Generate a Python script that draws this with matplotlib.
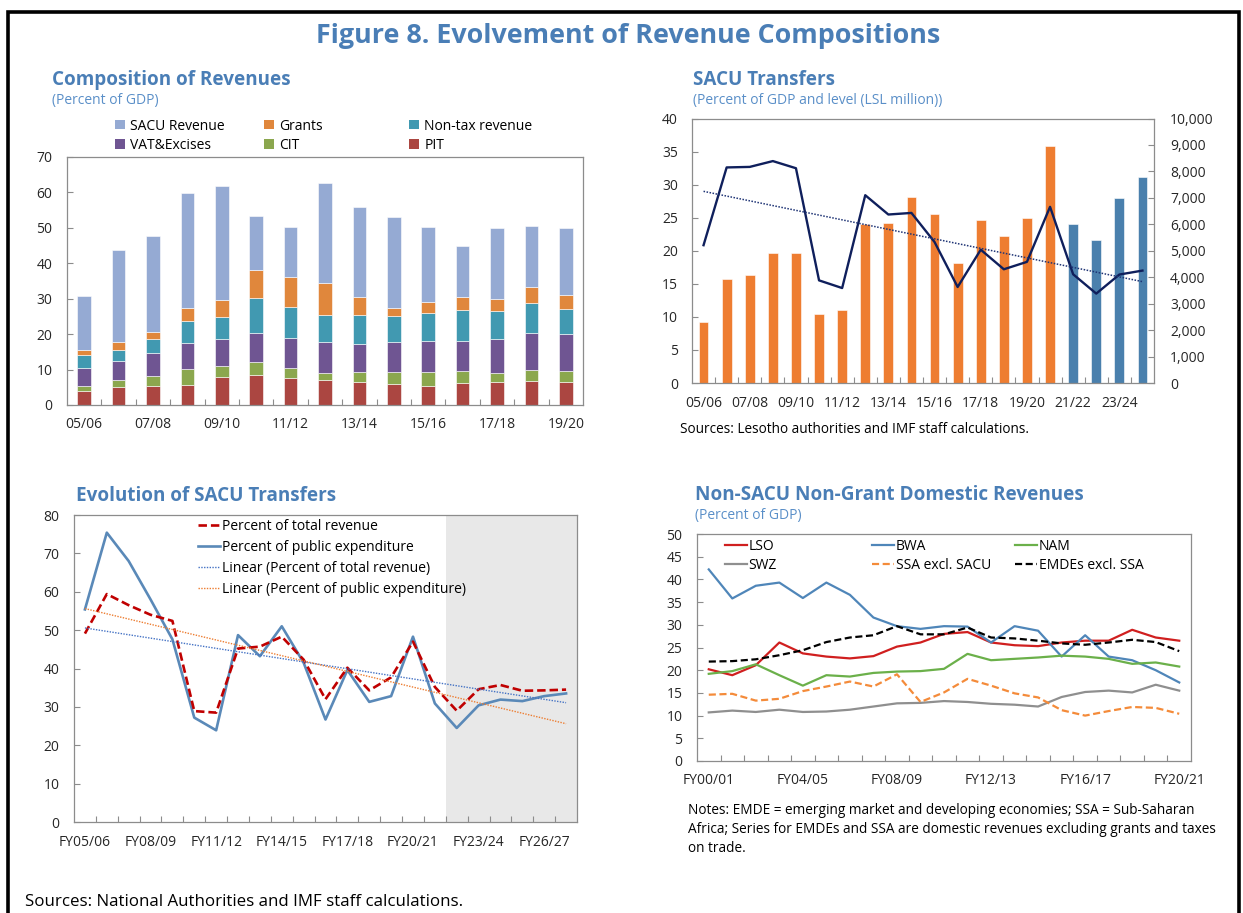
import numpy as np
import matplotlib
matplotlib.use('Agg')
import matplotlib.pyplot as plt
from matplotlib.patches import Patch, Rectangle
from matplotlib.legend import Legend
from matplotlib.ticker import FuncFormatter

# ------------------------------------------------------------------ data
comp_years = ['05/06', '06/07', '07/08', '08/09', '09/10', '10/11', '11/12', '12/13',
              '13/14', '14/15', '15/16', '16/17', '17/18', '18/19', '19/20']
comp_pit = [4.0, 5.2, 5.5, 5.7, 7.9, 8.6, 7.7, 7.0, 6.6, 6.0, 5.5, 6.3, 6.4, 6.9, 6.6]
comp_cit = [1.4, 1.8, 2.6, 4.6, 3.0, 3.4, 2.8, 2.1, 2.8, 3.4, 3.9, 3.2, 2.6, 3.0, 2.9]
comp_vat = [5.0, 5.4, 6.5, 7.2, 7.6, 8.2, 8.4, 8.8, 7.9, 8.5, 8.6, 8.5, 9.5, 10.4, 10.6]
comp_nontax = [3.6, 3.1, 3.9, 6.1, 6.2, 10.1, 8.7, 7.5, 8.1, 7.3, 8.1, 8.7, 8.0, 8.5, 7.1]
comp_grants = [1.5, 2.2, 2.1, 3.8, 4.8, 7.7, 8.4, 8.9, 5.0, 2.3, 3.1, 3.8, 3.3, 4.5, 3.8]
comp_sacu = [15.2, 26.0, 27.0, 32.3, 32.2, 15.4, 14.3, 28.3, 25.4, 25.7, 21.1, 14.5, 20.1, 17.2, 18.9]

sacu_years = ['05/06', '06/07', '07/08', '08/09', '09/10', '10/11', '11/12', '12/13',
              '13/14', '14/15', '15/16', '16/17', '17/18', '18/19', '19/20', '20/21',
              '21/22', '22/23', '23/24', '24/25']
sacu_pct_gdp = [9.2, 15.8, 16.4, 19.6, 19.6, 10.5, 11.0, 24.0, 24.2, 28.1,
                25.5, 18.1, 24.6, 22.2, 24.9, 35.9, 24.1, 21.6, 28.0, 31.2]
sacu_level = [5210, 8150, 8170, 8390, 8120, 3880, 3590, 7100, 6370, 6430,
              5330, 3630, 5040, 4300, 4580, 6660, 4110, 3380, 4100, 4250]
sacu_n_actual = 16

evo_years = ['FY05/06', 'FY06/07', 'FY07/08', 'FY08/09', 'FY09/10', 'FY10/11', 'FY11/12',
             'FY12/13', 'FY13/14', 'FY14/15', 'FY15/16', 'FY16/17', 'FY17/18', 'FY18/19',
             'FY19/20', 'FY20/21', 'FY21/22', 'FY22/23', 'FY23/24', 'FY24/25', 'FY25/26',
             'FY26/27', 'FY27/28']
evo_total_rev = [49.1, 59.4, 56.5, 54.0, 52.4, 28.9, 28.5, 45.2, 45.7, 48.3, 42.3, 32.0,
                 40.2, 34.3, 37.7, 47.0, 35.2, 29.0, 34.6, 35.7, 34.2, 34.3, 34.5]
evo_pub_exp = [55.4, 75.4, 68.0, 58.0, 47.6, 27.2, 23.9, 48.7, 43.2, 51.0, 41.5, 26.7,
               39.6, 31.3, 32.8, 48.3, 30.9, 24.5, 30.4, 31.9, 31.5, 32.8, 33.5]
evo_proj_start = 'FY22/23'

dom_years = ['FY00/01', 'FY01/02', 'FY02/03', 'FY03/04', 'FY04/05', 'FY05/06', 'FY06/07',
             'FY07/08', 'FY08/09', 'FY09/10', 'FY10/11', 'FY11/12', 'FY12/13', 'FY13/14',
             'FY14/15', 'FY15/16', 'FY16/17', 'FY17/18', 'FY18/19', 'FY19/20', 'FY20/21']
dom_lso = [20.2, 18.9, 21.1, 26.1, 23.7, 23.0, 22.6, 23.1, 25.2, 26.1, 28.0, 28.4, 26.1,
           25.5, 25.3, 26.1, 26.5, 26.5, 28.9, 27.2, 26.5]
dom_bwa = [42.2, 35.8, 38.6, 39.3, 35.9, 39.3, 36.6, 31.6, 29.7, 29.1, 29.7, 29.6, 26.1,
           29.7, 28.7, 23.0, 27.7, 23.0, 22.2, 20.0, 17.3]
dom_nam = [19.2, 19.8, 21.3, 18.9, 16.6, 18.9, 18.6, 19.4, 19.7, 19.8, 20.3, 23.6, 22.2,
           22.5, 22.8, 23.2, 23.0, 22.5, 21.4, 21.7, 20.8]
dom_swz = [10.7, 11.1, 10.8, 11.3, 10.8, 10.9, 11.3, 12.0, 12.7, 12.8, 13.2, 13.0, 12.6,
           12.4, 12.0, 14.1, 15.2, 15.5, 15.1, 16.8, 15.5]
dom_ssa = [14.6, 14.8, 13.3, 13.7, 15.4, 16.4, 17.5, 16.4, 19.1, 13.0, 15.1, 18.1, 16.6,
           14.9, 14.0, 11.2, 10.0, 11.0, 11.9, 11.7, 10.4]
dom_emde = [21.9, 22.0, 22.4, 23.3, 24.4, 26.2, 27.2, 27.7, 29.7, 27.9, 27.9, 29.4, 27.2,
            27.0, 26.5, 25.9, 25.6, 26.1, 26.7, 26.2, 24.2]

# ------------------------------------------------------------------ setup
W, H, DPI = 1243, 913, 100
plt.rcParams['font.family'] = ['Open Sans', 'DejaVu Sans']
plt.rcParams['font.size'] = 10
TXT = '#262626'
SPINE = '#8c8c8c'
BLUE_T = '#4a7eb6'
BLUE_S = '#5a8fc8'

fig = plt.figure(figsize=(W / DPI, H / DPI), dpi=DPI)
renderer = fig.canvas.get_renderer()


def rect(l, t, r, b):
    return [l / W, 1 - b / H, (r - l) / W, (b - t) / H]


def ftext(x, y, s, size, **kw):
    return fig.text(x / W, 1 - y / H, s, fontsize=size, va='baseline', **kw)


def fit_size(s, width, **kw):
    t = fig.text(0, 0, s, fontsize=10, **kw)
    w = t.get_window_extent(renderer=renderer).width
    t.remove()
    return 10 * width / w


def style_axes(ax, ypad=10.5):
    for s in ax.spines.values():
        s.set_color(SPINE)
        s.set_linewidth(0.9)
    ax.tick_params(which='both', colors=SPINE, labelcolor=TXT, labelsize=10)
    ax.tick_params(axis='y', direction='in', length=4, pad=ypad)
    ax.tick_params(axis='x', which='major', direction='in', length=4, labelbottom=False)
    ax.tick_params(axis='x', which='minor', length=0, pad=9)


def cat_xaxis(ax, labels, step):
    n = len(labels)
    ax.set_xlim(-0.5, n - 0.5)
    ax.set_xticks(np.arange(0.5, n - 1, 1))
    ax.set_xticks(np.arange(0, n, step), minor=True)
    ax.set_xticklabels([labels[i] for i in range(0, n, step)], minor=True)


def add_legend(ax, handles, labels, xpx, ypx, **kw):
    lg = Legend(ax, handles, labels, loc='upper left',
                bbox_to_anchor=(xpx / W, 1 - ypx / H), bbox_transform=fig.transFigure,
                frameon=False, borderpad=0, borderaxespad=0, fontsize=10, **kw)
    ax.add_artist(lg)
    return lg


# frame
fig.add_artist(Rectangle((8 / W, 1 - 925 / H), (1239 - 8) / W, (925 - 12) / H,
                         transform=fig.transFigure, fill=False, lw=2.6,
                         edgecolor='black', clip_on=False))

# titles
ttl = 'Figure 8. Evolvement of Revenue Compositions'
ftext(628, 43, ttl, fit_size(ttl, 627, fontweight='bold'),
      fontweight='bold', color=BLUE_T, ha='center')
ptsize = fit_size('Composition of Revenues', 238, fontweight='bold')
stsize = fit_size('(Percent of GDP and level (LSL million))', 249)
ftext(52, 85, 'Composition of Revenues', ptsize, fontweight='bold', color=BLUE_T)
ftext(52, 104, '(Percent of GDP)', stsize, color=BLUE_S)
ftext(693, 85, 'SACU Transfers', ptsize, fontweight='bold', color=BLUE_T)
ftext(693, 104, '(Percent of GDP and level (LSL million))', stsize, color=BLUE_S)
ftext(76, 501, 'Evolution of SACU Transfers', ptsize, fontweight='bold', color=BLUE_T)
ftext(695, 500, 'Non-SACU Non-Grant Domestic Revenues', ptsize, fontweight='bold', color=BLUE_T)
ftext(695, 519, '(Percent of GDP)', stsize, color=BLUE_S)

notes1 = 'Notes: EMDE = emerging market and developing economies; SSA = Sub-Saharan'
nsize = fit_size(notes1, 506)
ftext(688, 814, notes1, nsize, color='black')
ftext(688, 833, 'Africa; Series for EMDEs and SSA are domestic revenues excluding grants and taxes',
      nsize, color='black')
ftext(688, 852, 'on trade.', nsize, color='black')
ftext(680, 433, 'Sources: Lesotho authorities and IMF staff calculations.', nsize, color='black')
src = 'Sources: National Authorities and IMF staff calculations.'
ftext(25, 906, src, fit_size(src, 437), color='black')

# ------------------------------------------------------------------ panel 1
ax1 = fig.add_axes(rect(67, 157, 583, 405))
style_axes(ax1)
comp_series = [comp_pit, comp_cit, comp_vat, comp_nontax, comp_grants, comp_sacu]
comp_labels = ['PIT', 'CIT', 'VAT&Excises', 'Non-tax revenue', 'Grants', 'SACU Revenue']
comp_colors = ['#ab4641', '#8ba74e', '#6f5592', '#4199b1', '#e0873c', '#95aad3']
x1 = np.arange(len(comp_years))
bottom = np.zeros(len(x1))
for vals, col in zip(comp_series, comp_colors):
    ax1.bar(x1, vals, 0.4, bottom=bottom, color=col, edgecolor='white', linewidth=0.4, zorder=2)
    bottom += np.array(vals)
ax1.set_ylim(0, 70)
ax1.set_yticks(range(0, 71, 10))
cat_xaxis(ax1, comp_years, 2)

cmap = dict(zip(comp_labels, comp_colors))
for xpx, labs in [(115, ['SACU Revenue', 'VAT&Excises']),
                  (264, ['Grants', 'CIT']),
                  (409, ['Non-tax revenue', 'PIT'])]:
    add_legend(ax1, [Patch(facecolor=cmap[l], edgecolor='none') for l in labs], labs,
               xpx, 118.5, handlelength=0.7, handleheight=0.7, handletextpad=0.4,
               labelspacing=0.32)

# ------------------------------------------------------------------ panel 2
ax2 = fig.add_axes(rect(692, 118.5, 1154, 383))
style_axes(ax2, ypad=10)
x2 = np.arange(len(sacu_years))
bar_cols = ['#ee7d31' if i < sacu_n_actual else '#4a80ad' for i in x2]
ax2.bar(x2, sacu_pct_gdp, 0.42, color=bar_cols, edgecolor='white', linewidth=0.4, zorder=2)
ax2.set_ylim(0, 40)
ax2.set_yticks(range(0, 41, 5))
cat_xaxis(ax2, sacu_years, 2)
ax2r = ax2.twinx()
for s in ax2r.spines.values():
    s.set_visible(False)
ax2r.set_ylim(0, 10000)
ax2r.set_yticks(range(0, 10001, 1000))
ax2r.yaxis.set_major_formatter(FuncFormatter(lambda v, p: f'{v:,.0f}'))
ax2r.tick_params(axis='y', direction='in', length=4, pad=11.5, colors=SPINE,
                 labelcolor=TXT, labelsize=10)
ax2r.plot(x2, sacu_level, color='#0f1f5c', lw=1.7, zorder=3)
coef = np.polyfit(x2, sacu_level, 1)
ax2r.plot(x2, np.polyval(coef, x2), color='#1f3475', lw=1.1, ls=(0, (1, 1)), zorder=3)

# ------------------------------------------------------------------ panel 3
ax3 = fig.add_axes(rect(74, 515, 577, 822))
style_axes(ax3)
x3 = np.arange(len(evo_years))
cat_xaxis(ax3, evo_years, 3)
ps = evo_years.index(evo_proj_start)
ax3.axvspan(ps - 0.5, len(evo_years) - 0.5, color='#e8e8e8', zorder=0, lw=0)
ax3.set_ylim(0, 80)
ax3.set_yticks(range(0, 81, 10))
l1, = ax3.plot(x3, evo_total_rev, color='#c00000', lw=1.9, ls=(0, (3.2, 1.5)), zorder=3)
l2, = ax3.plot(x3, evo_pub_exp, color='#5a89b8', lw=1.9, zorder=2)
c1 = np.polyfit(x3, evo_total_rev, 1)
c2 = np.polyfit(x3, evo_pub_exp, 1)
l3, = ax3.plot(x3, np.polyval(c1, x3), color='#4472c4', lw=1.0, ls=(0, (1, 1)), zorder=4)
l4, = ax3.plot(x3, np.polyval(c2, x3), color='#ed7d31', lw=1.0, ls=(0, (1, 1)), zorder=4)
add_legend(ax3, [l1, l2, l3, l4],
           ['Percent of total revenue', 'Percent of public expenditure',
            'Linear (Percent of total revenue)', 'Linear (Percent of public expenditure)'],
           198, 519, handlelength=1.6, handletextpad=0.15, labelspacing=0.43)

# ------------------------------------------------------------------ panel 4
ax4 = fig.add_axes(rect(697, 534, 1191, 761))
style_axes(ax4)
x4 = np.arange(len(dom_years))
cat_xaxis(ax4, dom_years, 4)
ax4.set_ylim(0, 50)
ax4.set_yticks(range(0, 51, 5))
h = {}
h['LSO'], = ax4.plot(x4, dom_lso, color='#d01f1f', lw=1.6)
h['BWA'], = ax4.plot(x4, dom_bwa, color='#4f86b9', lw=1.6)
h['NAM'], = ax4.plot(x4, dom_nam, color='#6bb04a', lw=1.6)
h['SWZ'], = ax4.plot(x4, dom_swz, color='#8f8f8f', lw=1.6)
h['SSA excl. SACU'], = ax4.plot(x4, dom_ssa, color='#f48b3a', lw=1.6, ls=(0, (3.2, 1.6)))
h['EMDEs excl. SSA'], = ax4.plot(x4, dom_emde, color='black', lw=1.6, ls=(0, (3.2, 1.6)))
for xpx, labs in [(725, ['LSO', 'SWZ']), (872, ['BWA', 'SSA excl. SACU']),
                  (1015, ['NAM', 'EMDEs excl. SSA'])]:
    add_legend(ax4, [h[l] for l in labs], labs, xpx, 539,
               handlelength=1.6, handletextpad=0.1, labelspacing=0.3)

fig.savefig('out.png', dpi=DPI)
